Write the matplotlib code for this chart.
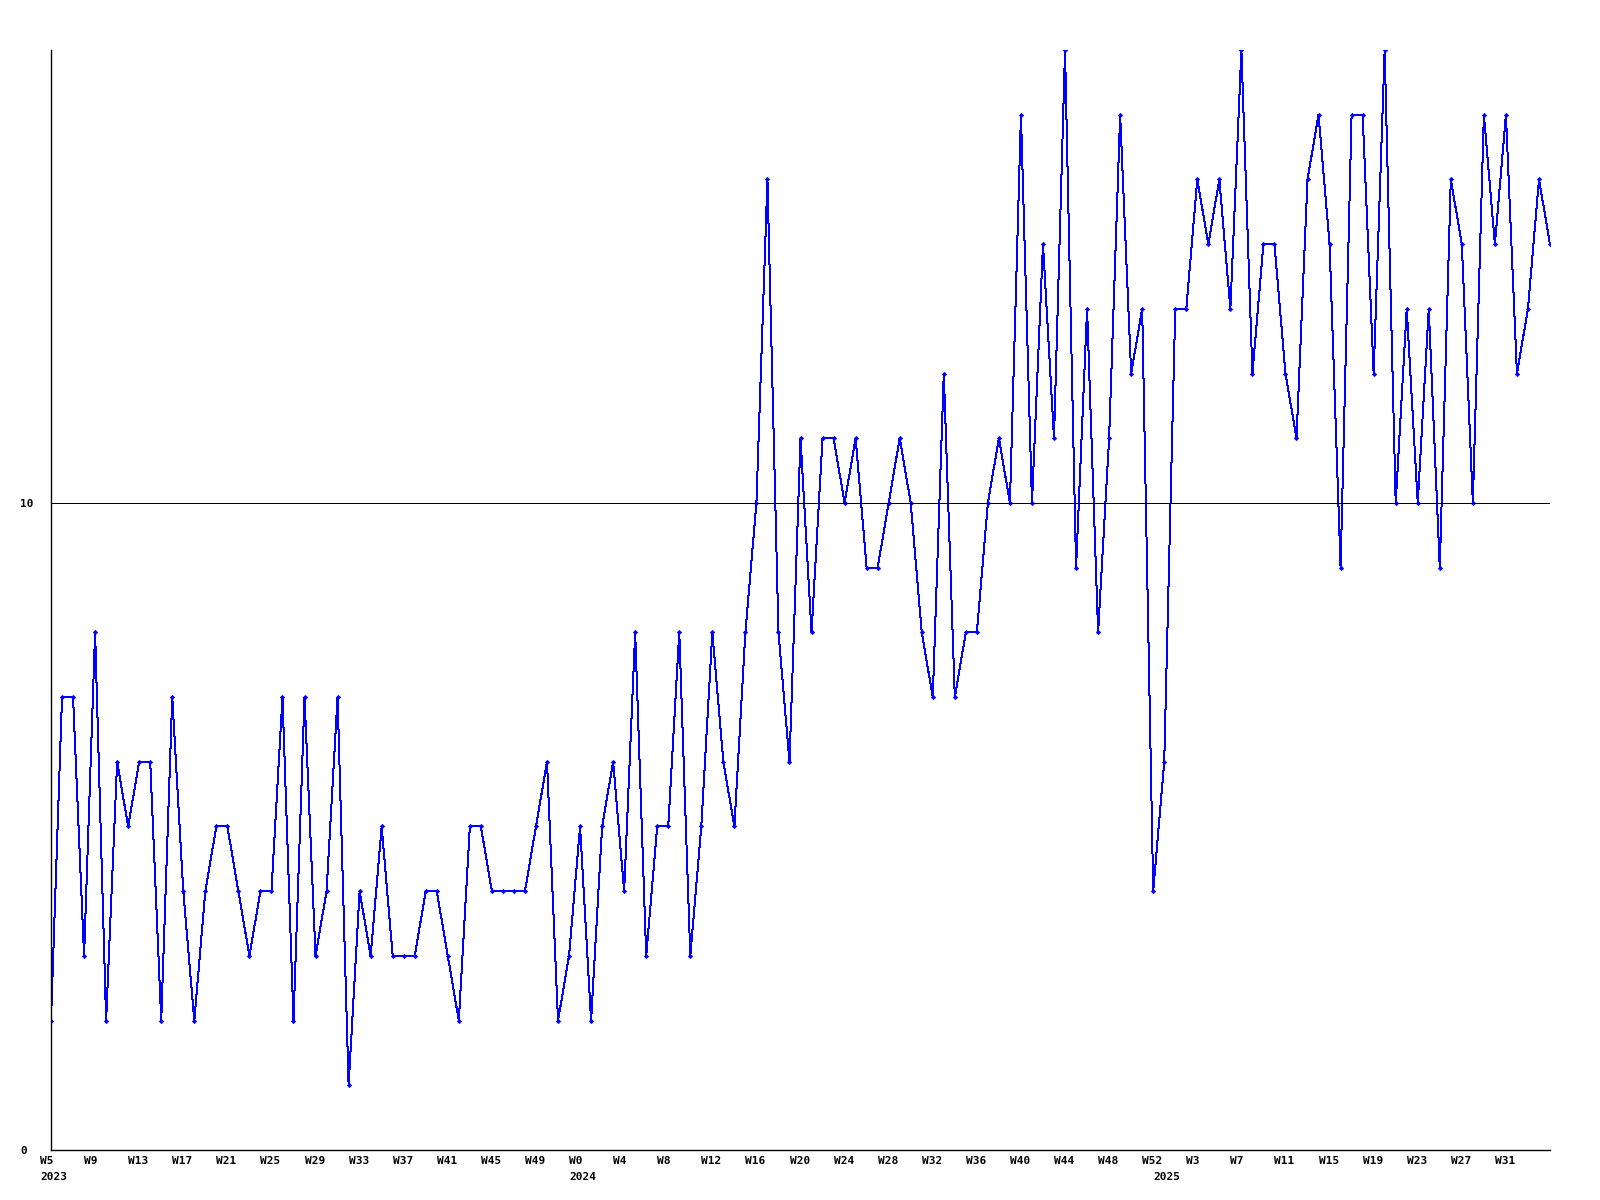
import matplotlib
matplotlib.use("Agg")
from matplotlib import pyplot as plt
from matplotlib.transforms import ScaledTranslation
import numpy as np

# weekly counts, 2023 W5 .. 2025 W35
vals_2023 = [2, 7, 7, 3, 8, 2, 6, 5, 6, 6, 2, 7, 4, 2, 4, 5, 5, 4, 3, 4,
             4, 7, 2, 7, 3, 4, 7, 1, 4, 3, 5, 3, 3, 3, 4, 4, 3, 2, 5, 5,
             4, 4, 4, 4, 5, 6, 2, 3]
vals_2024 = [5, 2, 5, 6, 4, 8, 3, 5, 5, 8, 3, 5, 8, 6, 5, 8, 10, 15, 8, 6,
             11, 8, 11, 11, 10, 11, 9, 9, 10, 11, 10, 8, 7, 12, 7, 8, 8, 10, 11, 10,
             16, 10, 14, 11, 17, 9, 13, 8, 11, 16, 12, 13, 4]
vals_2025 = [6, 13, 13, 15, 14, 15, 13, 17, 12, 14, 14, 12, 11, 15, 16, 14, 9, 16, 16, 12,
             17, 10, 13, 10, 13, 9, 15, 14, 10, 16, 14, 16, 12, 13, 15, 14]

weeks = [(2023, w) for w in range(5, 53)] + [(2024, w) for w in range(0, 53)] \
    + [(2025, w) for w in range(0, 36)]
values = vals_2023 + vals_2024 + vals_2025
x = np.arange(len(values))

fig = plt.figure(figsize=(16, 12), dpi=100)
ax = fig.add_axes([51 / 1600, 1 - 1150 / 1200, 1499 / 1600, 1100 / 1200])

ax.plot(x, values, color='#0000ff', lw=0.72, marker='D', ms=2.2,
        mec='#0000ff', mfc='#0000ff', mew=0.5, antialiased=False)
ax.axhline(10, color='black', lw=0.72, antialiased=False)

ax.set_xlim(0, len(values) - 1)
ax.set_ylim(0, 17)
for s in ['top', 'right']:
    ax.spines[s].set_visible(False)
for s in ['left', 'bottom']:
    ax.spines[s].set_linewidth(1.0)

mono = dict(family='DejaVu Sans Mono', weight='bold', size=8)

# a label every 4 weeks, none on the last (edge) point
tick_idx = x[:-1:4]
ax.set_xticks(tick_idx)
ax.set_xticklabels([f"W{weeks[i][1]}" for i in tick_idx], **mono)
ax.tick_params(axis='x', length=0, pad=4)
shift = ScaledTranslation(-11 / 100, 0, fig.dpi_scale_trans)
for lab in ax.get_xticklabels():
    lab.set_horizontalalignment('left')
    lab.set_transform(lab.get_transform() + shift)

ax.set_yticks([0, 10])
ax.set_yticklabels(['0', '10'], **mono)
ax.tick_params(axis='y', length=0, pad=22.3)
for lab in ax.get_yticklabels():
    lab.set_horizontalalignment('left')

# year under the first week of each year
for i, (yr, wk) in enumerate(weeks):
    if i == 0 or weeks[i - 1][0] != yr:
        ax.annotate(str(yr), xy=(i, 0), xycoords=('data', 'axes fraction'),
                    xytext=(-11, -22), textcoords='offset pixels',
                    ha='left', va='top', **mono)

fig.savefig('out.png', dpi=100)
